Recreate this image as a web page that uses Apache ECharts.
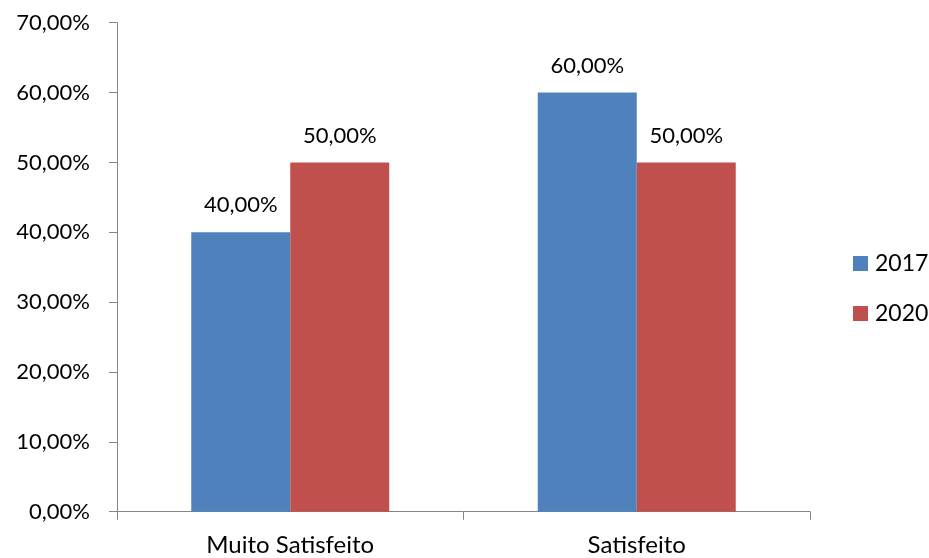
<!DOCTYPE html>
<html><head><meta charset="utf-8">
<script src="https://cdn.jsdelivr.net/npm/echarts@6/dist/echarts.min.js"></script>
<style>html,body{margin:0;padding:0;background:#fff}#c{width:929px;height:558px}</style>
</head><body><div id="c"></div>
<script>
const categories = ['Muito Satisfeito', 'Satisfeito'];
const seriesNames = ['2017', '2020'];
const values2017 = [40, 60];
const values2020 = [50, 50];
const yTicks = [0, 10, 20, 30, 40, 50, 60, 70];

const fmt = v => v.toFixed(2).replace('.', ',') + '%';
const font = 'Lato, "Open Sans", sans-serif';
const chart = echarts.init(document.getElementById('c'));
chart.setOption({
  animation: false,
  textStyle: { fontFamily: font },
  grid: { left: 117, right: 119, top: 22.7, bottom: 46.3, containLabel: false },
  legend: {
    orient: 'vertical', left: 848, top: 247, padding: 5,
    data: seriesNames,
    itemWidth: 15, itemHeight: 15, itemGap: 27, icon: 'rect',
    textStyle: { fontSize: 23, color: '#000', fontFamily: font, padding: [0, 0, 0, 2] }
  },
  xAxis: {
    type: 'category', data: categories,
    axisLine: { lineStyle: { color: '#868686', width: 1 } },
    axisTick: { show: true, length: 8, lineStyle: { color: '#868686' } },
    axisLabel: { fontSize: 24, color: '#000', margin: 22, fontFamily: font }
  },
  yAxis: {
    type: 'value', min: yTicks[0], max: yTicks[yTicks.length - 1], interval: 10,
    axisLine: { show: true, lineStyle: { color: '#868686', width: 1 } },
    axisTick: { show: true, length: 8, lineStyle: { color: '#868686' } },
    splitLine: { show: false },
    axisLabel: { fontSize: 22, color: '#000', margin: 27, formatter: fmt, fontFamily: font }
  },
  series: [
    { name: seriesNames[0], type: 'bar', data: values2017, barGap: '0%', barCategoryGap: '42.86%',
      itemStyle: { color: '#4F81BD' },
      label: { show: true, position: 'top', distance: 16, fontSize: 22, color: '#000', formatter: p => fmt(p.value), fontFamily: font } },
    { name: seriesNames[1], type: 'bar', data: values2020, barGap: '0%', barCategoryGap: '42.86%',
      itemStyle: { color: '#C0504D' },
      label: { show: true, position: 'top', distance: 16, fontSize: 22, color: '#000', formatter: p => fmt(p.value), fontFamily: font } }
  ]
});
</script></body></html>
